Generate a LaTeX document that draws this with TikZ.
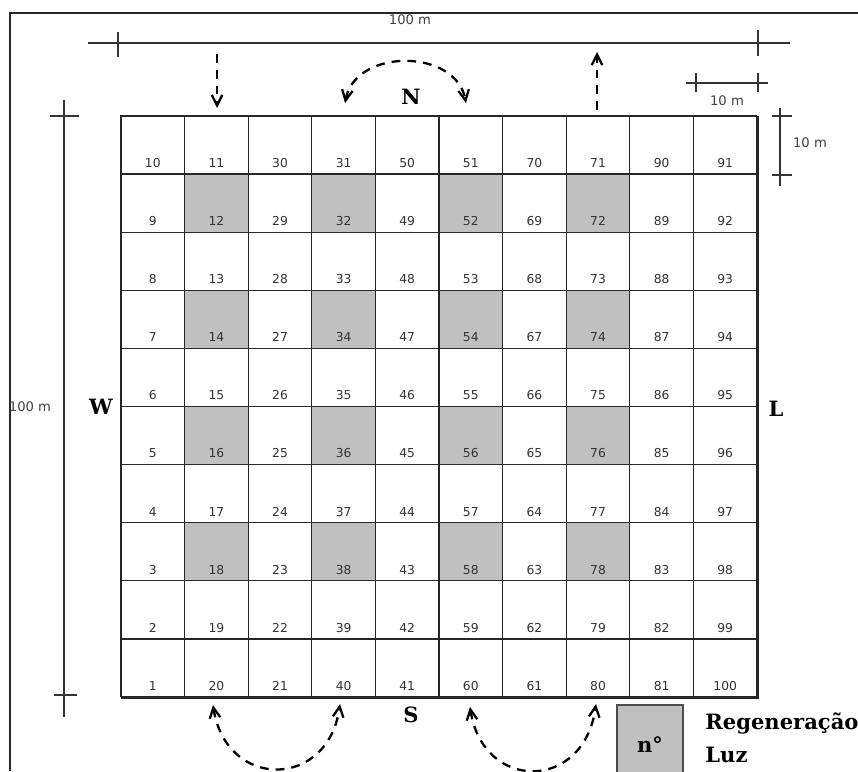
\documentclass[tikz,border=0pt]{standalone}
\usepackage{fontspec}
\setmainfont{DejaVu Serif}
\newfontfamily\numfont{DejaVu Sans}
\usetikzlibrary{arrows.meta}
\definecolor{plotgray}{RGB}{192,192,192}

\begin{document}
\begin{tikzpicture}[x=0.02cm, y=-0.02cm, >={Straight Barb[length=6pt,width=6pt]},
    gridline/.style={line width=0.7pt, black!85},
    border/.style={line width=1.7pt, black!85},
    scaleline/.style={line width=0.6pt, black!80},
    flow/.style={line width=1.3pt, dash pattern=on 5pt off 4pt},
    num/.style={font=\numfont\fontsize{7}{8}\selectfont, text=black!80, inner sep=0pt},
    meas/.style={font=\numfont\fontsize{7.5}{9}\selectfont, text=black!75, inner sep=0pt},
    dir/.style={font=\bfseries\fontsize{12}{14}\selectfont, inner sep=0pt}]
    \useasboundingbox (0,0) rectangle (858,771);

    % 1. moldura
    \draw[border] (10,771) -- (10,13) -- (858,13);

    % 2. parcelas cinzentas (regeneração / luz)
    \foreach \c in {1,3,5,7} {
        \foreach \r in {1,3,5,7} {
            \fill[plotgray] ({121+63.6*\c},{116+58.1*\r}) rectangle ++(63.6,58.1);
        }
    }

    % 3. grade 10 x 10
    \foreach \i in {0,...,10} {
        \draw[gridline] ({121+63.6*\i},116) -- ({121+63.6*\i},697);
        \draw[gridline] (121,{116+58.1*\i}) -- (757,{116+58.1*\i});
    }
    \draw[line width=1.1pt, black!85] (121,697) -- (121,116) -- (757,116);
    \draw[border] (121,697) -- (757,697) -- (757,116);

    % 4. numeração em serpentina
    \foreach \c in {0,...,9} {
        \foreach \r in {0,...,9} {
            \pgfmathtruncatemacro{\n}{isodd(\c) ? 10*\c+1+\r : 10*\c+10-\r}
            \node[num] (p\n) at ({152.8+63.6*\c},{163+58.1*\r}) {\n};
        }
    }

    % 5. escalas
    \draw[scaleline] (88,43) -- (790,43);
    \draw[scaleline] (118,32) -- (118,57);
    \draw[scaleline] (758,30) -- (758,56);
    \node[meas] (mTop) at (410,20) {100 m};

    \draw[scaleline] (64,100) -- (64,717);
    \draw[scaleline] (50,116) -- (79,116);
    \draw[scaleline] (54,695) -- (77,695);
    \node[meas] (mLeft) at (30,407) {100 m};

    \draw[scaleline] (686,83) -- (768,83);
    \draw[scaleline] (696,73) -- (696,92);
    \draw[scaleline] (758,73) -- (758,92);
    \node[meas] (mCellH) at (727,101) {10 m};

    \draw[scaleline] (780,108) -- (780,186);
    \draw[scaleline] (772,116) -- (792,116);
    \draw[scaleline] (772,175) -- (792,175);
    \node[meas] (mCellV) at (810,143) {10 m};

    % 6. pontos cardeais
    \node[dir] (north) at (411,97) {N};
    \node[dir] (south) at (411,715) {S};
    \node[dir] (west) at (101,407) {W};
    \node[dir] (east) at (776,409) {L};

    % 7. percurso (setas tracejadas)
    \coordinate (inA) at (217,54);
    \coordinate (inB) at (217,108);
    \coordinate (outA) at (597,110);
    \coordinate (outB) at (597,52);
    \coordinate (nL) at (345,103);
    \coordinate (nR) at (466,103);
    \coordinate (sA) at (213,705);
    \coordinate (sB) at (340,704);
    \coordinate (sC) at (470,707);
    \coordinate (sD) at (596,704);
    \draw[flow,->] (inA) -- (inB);
    \draw[flow,->] (outA) -- (outB);
    \draw[flow,<->] (nL) .. controls (355,48) and (456,48) .. (nR);
    \draw[flow,<->] (sA) .. controls (226,790) and (328,790) .. (sB);
    \draw[flow,<->] (sC) .. controls (483,792) and (584,792) .. (sD);

    % 8. legenda
    \fill[plotgray] (617,705) rectangle (683,775);
    \draw[line width=1pt, black!70] (617,775) -- (617,705) -- (683,705) -- (683,775);
    \node[dir] (legN) at (650,745) {n°};
    \node[dir, anchor=west] (legReg) at (705,723) {Regeneração};
    \node[dir, anchor=west] (legLuz) at (705,755) {Luz};
\end{tikzpicture}
\end{document}
